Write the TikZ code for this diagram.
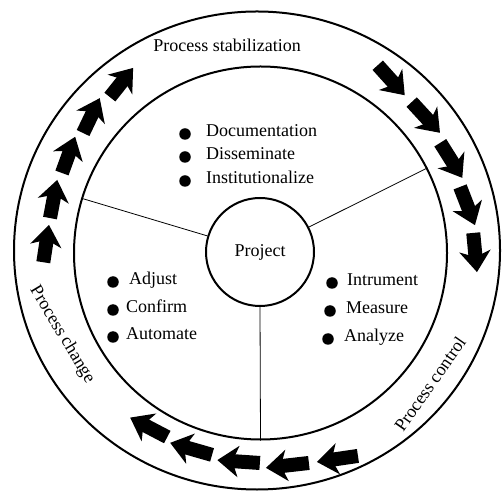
\documentclass[tikz,border=0pt]{standalone}
\usepackage{fontspec}
\setmainfont{Liberation Serif}
\usetikzlibrary{arrows.meta, positioning}

\begin{document}
\begin{tikzpicture}[x=1pt, y=1pt,
    every node/.style={font=\fontsize{18}{21}\selectfont},
    ring node/.style={circle, draw, line width=2pt, inner sep=0pt},
    spoke/.style={line width=0.8pt},
    dot node/.style={circle, fill, inner sep=0pt, minimum size=11.5pt},
    item node/.style={anchor=west, inner sep=0pt, text height=1.5ex, text depth=0.25ex},
    fat arrow/.style={line width=14pt, -{Stealth[length=21pt, width=31pt, inset=6pt]}}]
  \useasboundingbox (0,0) rectangle (502,492);
  % rings
  \draw[line width=2pt] (257,241.5) ellipse [x radius=243, y radius=239];
  \node[ring node, minimum size=373pt] (inner) at (260.5,239) {};
  \node[ring node, minimum size=108pt] (project) at (260,240) {Project};
  % spokes
  \draw[spoke] (project.163) -- (inner.163);
  \draw[spoke] (project.27.5) -- (inner.27.5);
  \draw[spoke] (project.270) -- (inner.270);
  % arrows round the ring (tail angle/radius, tip angle/radius)
  \coordinate (c) at (258,241);
  \foreach \a/\r/\b/\s in {183/215/172.9/210.6, 171/210.6/160.5/213,
      158.3/211/148/215.6, 146/211/136/220, 133.9/213.6/124.3/221.6,
      57.2/221/46.7/214, 44.1/214/33/217, 30.7/212/19.7/217,
      17.6/212/6.8/218.5, 4.8/216/-5.5/220,
      -64/228/-74.4/219, -76.5/218/-87.9/217, -89.5/212/-101/213,
      -102.7/209/-114.6/211, -116/207/-127.5/210}
    \draw[fat arrow] ([shift={(\a:\r)}]c) -- ([shift={(\b:\s)}]c);
  % ring labels
  \node (stab) at (227,447) {Process stabilization};
  \node[rotate=-59] (change) at (62,157) {Process change};
  \node[rotate=55] (control) at (430,108) {Process control};
  % top list
  \node[dot node] (d1) at (185,358) {};
  \node[dot node] (d2) at (185,335) {};
  \node[dot node] (d3) at (185,311) {};
  \node[item node, right=15pt of d1] (t1) {Documentation};
  \node[item node, right=15pt of d2] (t2) {Disseminate};
  \node[item node, right=15pt of d3] (t3) {Institutionalize};
  % left list
  \node[dot node] (d4) at (113,210) {};
  \node[dot node] (d5) at (113,182) {};
  \node[dot node] (d6) at (113,155) {};
  \node[item node, right=10pt of d4] (t4) {Adjust};
  \node[item node, right=7pt of d5] (t5) {Confirm};
  \node[item node, right=7pt of d6] (t6) {Automate};
  % right list
  \node[dot node] (d7) at (332,209) {};
  \node[dot node] (d8) at (330,181) {};
  \node[dot node] (d9) at (328,153) {};
  \node[item node, right=9pt of d7] (t7) {Intrument};
  \node[item node, right=10pt of d8] (t8) {Measure};
  \node[item node, right=10pt of d9] (t9) {Analyze};
\end{tikzpicture}
\end{document}
